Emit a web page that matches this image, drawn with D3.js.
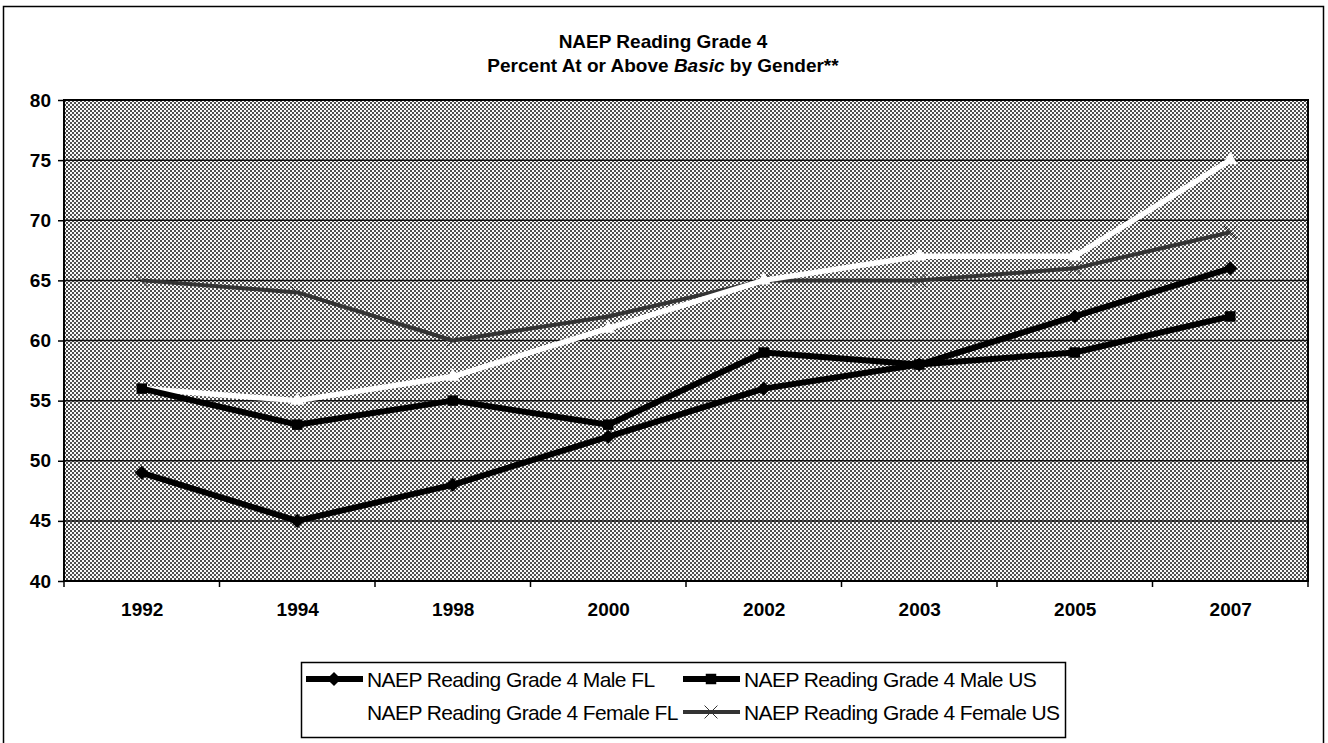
<!DOCTYPE html>
<html>
<head>
<meta charset="utf-8">
<script src="https://cdn.jsdelivr.net/npm/d3@7"></script>
<style>
  body { margin: 0; background: #fff; }
  svg { display: block; font-family: "Liberation Sans", Arial, sans-serif; }
</style>
</head>
<body>
<div class="chart"></div>
<script>
// NAEP reading chart

// DATA-------------------------
const years = ['1992', '1994', '1998', '2000', '2002', '2003', '2005', '2007'];
const maleFL = [49, 45, 48, 52, 56, 58, 62, 66];
const maleUS = [56, 53, 55, 53, 59, 58, 59, 62];
const femaleFL = [56, 55, 57, 61, 65, 67, 67, 75];
const femaleUS = [65, 64, 60, 62, 65, 65, 66, 69];
const yTicks = [40, 45, 50, 55, 60, 65, 70, 75, 80];
const seriesNames = [
    'NAEP Reading Grade 4 Male FL',
    'NAEP Reading Grade 4 Male US',
    'NAEP Reading Grade 4 Female FL',
    'NAEP Reading Grade 4 Female US'
];

// CHART INIT-------------------------
const W = 1328, H = 743;
const plot = {left: 64, top: 100, right: 1308, bottom: 581};

const svg = d3.select('.chart')
    .append('svg')
    .attr('width', W)
    .attr('height', H);

// checker texture for the plot area
const defs = svg.append('defs');
const pat = defs.append('pattern')
    .attr('id', 'dither')
    .attr('patternUnits', 'userSpaceOnUse')
    .attr('width', 4)
    .attr('height', 4);
pat.append('rect').attr('width', 4).attr('height', 4).attr('fill', '#fafafa');
pat.append('rect').attr('width', 2).attr('height', 2).attr('fill', '#505050');
pat.append('rect').attr('x', 2).attr('y', 2).attr('width', 2).attr('height', 2).attr('fill', '#505050');

// chart border
svg.append('rect')
    .attr('x', 3.5)
    .attr('y', 6.5)
    .attr('width', 1320)
    .attr('height', 750)
    .attr('fill', 'none')
    .attr('stroke', '#000')
    .attr('stroke-width', 1.5);

const xBand = d3.scaleBand()
    .domain(years)
    .range([plot.left, plot.right]);

const xScale = d3.scalePoint()
    .domain(years)
    .range([plot.left, plot.right])
    .padding(0.5);

const yScale = d3.scaleLinear()
    .domain([40, 80])
    .range([plot.bottom, plot.top]);

// plot background
svg.append('rect')
    .attr('x', plot.left)
    .attr('y', plot.top)
    .attr('width', plot.right - plot.left)
    .attr('height', plot.bottom - plot.top)
    .attr('fill', 'url(#dither)');

// gridlines
svg.append('g')
    .selectAll('line')
    .data(yTicks)
    .enter()
    .append('line')
    .attr('x1', plot.left)
    .attr('x2', plot.right)
    .attr('y1', d => yScale(d))
    .attr('y2', d => yScale(d))
    .attr('stroke', '#111')
    .attr('stroke-width', 1.5);

svg.append('rect')
    .attr('x', plot.left)
    .attr('y', plot.top)
    .attr('width', plot.right - plot.left)
    .attr('height', plot.bottom - plot.top)
    .attr('fill', 'none')
    .attr('stroke', '#000')
    .attr('stroke-width', 2);

// axes
const yAxis = d3.axisLeft(yScale)
    .tickValues(yTicks)
    .tickSize(6)
    .tickSizeOuter(0)
    .tickPadding(7);

svg.append('g')
    .attr('class', 'axis y-axis')
    .attr('transform', `translate(${plot.left},0)`)
    .call(yAxis);

const xAxis = d3.axisBottom(xScale)
    .tickSize(0)
    .tickPadding(22);

svg.append('g')
    .attr('class', 'axis x-axis')
    .attr('transform', `translate(0,${plot.bottom})`)
    .call(xAxis);

// category boundary ticks
svg.append('g')
    .selectAll('line')
    .data(years.concat(['end']))
    .enter()
    .append('line')
    .attr('x1', d => d === 'end' ? plot.right : xBand(d))
    .attr('x2', d => d === 'end' ? plot.right : xBand(d))
    .attr('y1', plot.bottom)
    .attr('y2', plot.bottom + 6)
    .attr('stroke', '#000')
    .attr('stroke-width', 1.5);

svg.selectAll('.axis .domain').remove();
svg.selectAll('.axis text')
    .attr('font-family', '"Liberation Sans", Arial, sans-serif')
    .attr('font-size', 19)
    .attr('font-weight', 'bold')
    .attr('fill', '#000');
svg.selectAll('.y-axis .tick line')
    .attr('stroke', '#000')
    .attr('stroke-width', 1.5);

// title
const title = svg.append('text')
    .attr('text-anchor', 'middle')
    .attr('font-size', 19)
    .attr('font-weight', 'bold');
title.append('tspan')
    .attr('x', 663)
    .attr('y', 48)
    .text('NAEP Reading Grade 4');
const t2 = title.append('tspan')
    .attr('x', 663)
    .attr('y', 72);
t2.append('tspan').text('Percent At or Above ');
t2.append('tspan').attr('font-style', 'italic').text('Basic');
t2.append('tspan').text(' by Gender**');

// SERIES-------------------------
const diamond = d3.symbol().type(d3.symbolSquare).size(100);
const square = d3.symbol().type(d3.symbolSquare).size(110);
const tri = d3.symbol().type(d3.symbolTriangle).size(90);
const cross = d3.symbol().type(d3.symbolX).size(110);

const series = [
    {name: seriesNames[0], values: maleFL, stroke: '#000', width: 6, marker: 'diamond'},
    {name: seriesNames[1], values: maleUS, stroke: '#000', width: 6, marker: 'square'},
    {name: seriesNames[2], values: femaleFL, stroke: '#fff', width: 5.5, marker: 'tri'},
    {name: seriesNames[3], values: femaleUS, stroke: '#333', width: 4, marker: 'cross'}
];

const line = d3.line()
    .x((d, i) => xScale(years[i]))
    .y(d => yScale(d));

function drawMarker(g, s, x, y) {
    if (s.marker === 'diamond') {
        g.append('path').attr('d', diamond())
            .attr('transform', `translate(${x},${y}) rotate(45)`)
            .attr('fill', '#000');
    } else if (s.marker === 'square') {
        g.append('path').attr('d', square())
            .attr('transform', `translate(${x},${y})`)
            .attr('fill', '#000');
    } else if (s.marker === 'tri') {
        g.append('path').attr('d', tri())
            .attr('transform', `translate(${x},${y})`)
            .attr('fill', '#fff');
    } else {
        g.append('path').attr('d', cross())
            .attr('transform', `translate(${x},${y})`)
            .attr('fill', '#333')
            .attr('stroke', '#333')
            .attr('stroke-width', 1);
    }
}

// draw order: female US, female FL, male US, male FL
[3, 2, 1, 0].forEach(k => {
    const s = series[k];
    const g = svg.append('g');
    g.append('path')
        .datum(s.values)
        .attr('d', line)
        .attr('fill', 'none')
        .attr('stroke', s.stroke)
        .attr('stroke-width', s.width)
        .attr('stroke-linejoin', 'round');
    s.values.forEach((v, i) => drawMarker(g, s, xScale(years[i]), yScale(v)));
});

// LEGEND-------------------------
const legend = svg.append('g');
legend.append('rect')
    .attr('x', 301.5)
    .attr('y', 662.5)
    .attr('width', 764)
    .attr('height', 75)
    .attr('fill', '#fff')
    .attr('stroke', '#000')
    .attr('stroke-width', 1.5);

const legPos = [
    {x: 306, y: 679},
    {x: 683, y: 679},
    {x: 306, y: 712},
    {x: 683, y: 712}
];

series.forEach((s, k) => {
    const p = legPos[k];
    const g = legend.append('g');
    g.append('line')
        .attr('x1', p.x)
        .attr('x2', p.x + 57)
        .attr('y1', p.y)
        .attr('y2', p.y)
        .attr('stroke', s.stroke)
        .attr('stroke-width', s.width);
    drawMarker(g, s, p.x + 28, p.y);
    g.append('text')
        .attr('x', p.x + 61)
        .attr('y', p.y + 8)
        .attr('font-size', 21)
        .attr('letter-spacing', -0.6)
        .text(s.name);
});
</script>
</body>
</html>
